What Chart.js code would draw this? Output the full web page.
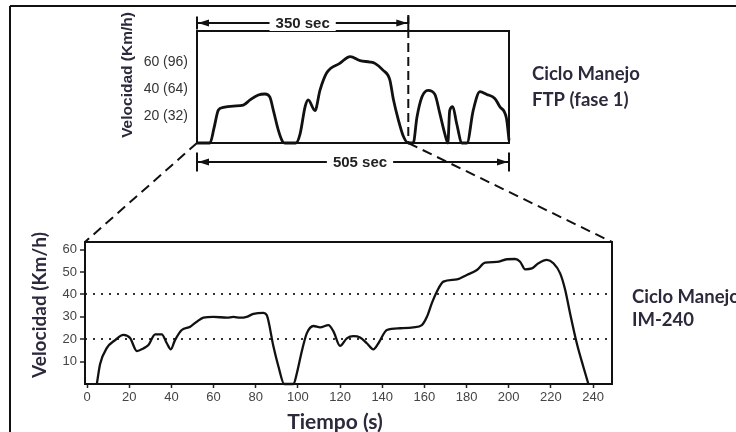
<!DOCTYPE html>
<html>
<head>
<meta charset="utf-8">
<script src="https://cdn.jsdelivr.net/npm/chart.js@4.4.1/dist/chart.umd.min.js"></script>
<style>
  html, body { margin: 0; padding: 0; background: #fff; }
  #wrap { position: relative; width: 736px; height: 432px; overflow: hidden; }
  #wrap canvas { position: absolute; left: 0; top: 0; }
</style>
</head>
<body>
<div id="wrap">
  <canvas id="ftp" width="736" height="432"></canvas>
  <canvas id="im" width="736" height="432"></canvas>
</div>
<script>
// FTP cycle (phase 1), time in s, speed in mph
const ftpTime  = [0, 21, 27.5, 34.6, 42.6, 58.8, 75, 85.8, 99.3, 110, 118, 123.5, 131.6, 138.6, 142, 160, 167, 175, 180, 191, 199, 210, 231, 248, 264, 280, 288, 301, 312, 318, 326, 334, 342, 350, 356, 364, 374, 385, 393, 401, 406, 409, 414, 420, 429, 437, 447, 458, 469, 482, 490, 501, 505];
const ftpSpeed = [0, 0, 11, 24.4, 26.4, 27.4, 28.1, 31.9, 35.6, 36.3, 34, 24.4, 9.6, 1, 0, 0, 7, 27, 32, 24, 39, 52, 59, 64, 61, 60, 59, 54, 47, 32, 17, 5, 0, 0, 19, 34, 39, 36, 22, 7, 0, 24, 27, 15, 0, 0, 24, 38, 36, 33, 27, 18, 2];
const ftpTicks = [20, 40, 60];
const ftpTickLabels = ['20 (32)', '40 (64)', '60 (96)'];
const phaseEnd = 342;
const cycleEnd = 505;
const bracketLabels = ['350 sec', '505 sec'];

// IM-240 cycle, time in s, speed in km/h
const imTime  = [4.6, 6.2, 9.3, 13.3, 17.2, 20.4, 23.6, 26.7, 29.1, 32.3, 35.4, 37.8, 39.7, 41.7, 44.9, 48.9, 52, 55.2, 59.9, 66.3, 69.4, 72.6, 75.7, 78.9, 83.6, 85.2, 88.4, 90.8, 93.5, 97.9, 99.5, 101.8, 104.2, 107.4, 110.5, 114.5, 116.9, 120, 123.2, 126.3, 129.5, 132.7, 135.8, 138.2, 142.2, 148.5, 154.8, 158.8, 161.2, 163.5, 165.9, 169, 175.4, 180.1, 184.9, 188.8, 194.4, 199.1, 203, 205.4, 207.8, 211, 214.1, 218.1, 221.2, 224.4, 226.8, 229.1, 232.3, 235.4, 237.8];
const imSpeed = [0, 9, 16, 19.6, 21.9, 20.5, 14.7, 15.9, 17.4, 22.2, 22.2, 18.2, 15.5, 19.6, 24.1, 25.6, 27.8, 29.6, 30, 29.6, 30, 29.6, 30, 31.3, 31.8, 30.8, 16.7, 7.7, 0, 0, 4.8, 14.4, 22.6, 25.9, 25.3, 26.3, 23.4, 17, 20.4, 21.4, 20.8, 18.2, 15.5, 18.2, 24.1, 24.9, 25.3, 26.3, 30, 36, 41.2, 45.7, 46.7, 48.7, 50.9, 54.2, 54.5, 55.7, 55.8, 54.6, 51.2, 51.6, 53.9, 55.4, 53.9, 49.4, 42, 31.6, 18.2, 7.7, 0];
const imXTicks = [0, 20, 40, 60, 80, 100, 120, 140, 160, 180, 200, 220, 240];
const imYTicks = [10, 20, 30, 40, 50, 60];
const imDotted = [20, 40];

const ink = '#111';
const labelColor = '#2a2a3c';
const boldFont = 'bold 18.5px Lato';

const boxFrame = {
  id: 'boxFrame',
  afterDatasetsDraw(chart) {
    const {ctx, chartArea: c} = chart;
    ctx.save();
    ctx.strokeStyle = ink;
    ctx.lineWidth = 2;
    ctx.strokeRect(c.left, c.top, c.right - c.left, c.bottom - c.top);
    ctx.restore();
  }
};

function line(ctx, x0, y0, x1, y1) {
  ctx.beginPath();
  ctx.moveTo(x0, y0);
  ctx.lineTo(x1, y1);
  ctx.stroke();
}

function arrowHead(ctx, x, y, dir) {
  ctx.beginPath();
  ctx.moveTo(x, y);
  ctx.lineTo(x - dir * 11, y - 3.5);
  ctx.lineTo(x - dir * 11, y + 3.5);
  ctx.closePath();
  ctx.fill();
}

function bracket(ctx, x0, x1, y, half, text, shift) {
  line(ctx, x0, y, x1, y);
  line(ctx, x0, y - half, x0, y + half);
  line(ctx, x1, y - half, x1, y + half);
  arrowHead(ctx, x0 + 1, y, -1);
  arrowHead(ctx, x1 - 1, y, 1);
  ctx.font = 'bold 15px "Liberation Sans"';
  const w = ctx.measureText(text).width;
  const mid = (x0 + x1) / 2 + shift;
  ctx.fillStyle = '#fff';
  ctx.fillRect(mid - w / 2 - 6, y - 8, w + 12, 16);
  ctx.fillStyle = '#222';
  ctx.textAlign = 'center';
  ctx.textBaseline = 'middle';
  ctx.fillText(text, mid, y + 0.5);
  ctx.fillStyle = ink;
}

function vText(ctx, text, x, y, font) {
  ctx.save();
  ctx.translate(x, y);
  ctx.rotate(-Math.PI / 2);
  ctx.font = font;
  ctx.textAlign = 'center';
  ctx.textBaseline = 'middle';
  ctx.fillText(text, 0, 0);
  ctx.restore();
}

const ftpNotes = {
  id: 'ftpNotes',
  afterDraw(chart) {
    const {ctx, chartArea: c, scales: {x}} = chart;
    const x0 = x.getPixelForValue(0);
    const x1 = x.getPixelForValue(phaseEnd);
    const x2 = x.getPixelForValue(cycleEnd);
    ctx.save();
    ctx.strokeStyle = ink;
    ctx.fillStyle = ink;
    ctx.lineWidth = 2;
    ctx.setLineDash([9, 5]);
    line(ctx, x1, c.top - 16, x1, c.bottom);
    ctx.setLineDash([]);
    bracket(ctx, x0, x1, c.top - 8, 6.5, bracketLabels[0], 0);
    bracket(ctx, x0, x2, c.bottom + 19, 9.5, bracketLabels[1], 7);

    ctx.fillStyle = labelColor;
    vText(ctx, 'Velocidad (Km/h)', c.left - 69, c.top + 44, 'bold 15.5px "Liberation Sans"');
    ctx.font = boldFont;
    ctx.textAlign = 'left';
    ctx.textBaseline = 'middle';
    ctx.fillText('Ciclo Manejo', c.right + 23, c.top + 43);
    ctx.fillText('FTP (fase 1)', c.right + 23, c.top + 69);
    ctx.restore();
  }
};

const topChart = new Chart(document.getElementById('ftp').getContext('2d'), {
  type: 'line',
  data: {
    datasets: [{
      data: ftpTime.map((t, i) => ({x: t, y: ftpSpeed[i]})),
      borderColor: ink,
      borderWidth: 2.8,
      pointRadius: 0,
      cubicInterpolationMode: 'monotone',
      clip: 4
    }]
  },
  options: {
    responsive: false,
    animation: false,
    layout: {padding: {left: 0, top: 31, right: 227, bottom: 289}},
    plugins: {legend: {display: false}, tooltip: {enabled: false}},
    scales: {
      x: {type: 'linear', display: false, min: 0, max: cycleEnd},
      y: {
        min: 0,
        max: 83,
        afterFit: (s) => { s.width = 197; },
        afterBuildTicks: (s) => { s.ticks = ftpTicks.map((v) => ({value: v})); },
        grid: {display: false, drawTicks: false},
        border: {display: false},
        ticks: {
          padding: 9,
          color: '#333',
          font: {family: 'Liberation Sans', size: 14},
          callback: (v) => ftpTickLabels[ftpTicks.indexOf(v)]
        }
      }
    }
  },
  plugins: [boxFrame, ftpNotes]
});

const imNotes = {
  id: 'imNotes',
  afterDraw(chart) {
    const {ctx, chartArea: b} = chart;
    const a = topChart.chartArea;
    const xp = topChart.scales.x.getPixelForValue(phaseEnd);
    ctx.save();
    ctx.strokeStyle = ink;
    ctx.lineWidth = 2;
    ctx.setLineDash([10, 6]);
    line(ctx, a.left, a.bottom, b.left, b.top);
    line(ctx, xp, a.bottom, b.right, b.top);
    ctx.setLineDash([]);

    // outer frame (top and left edges only)
    line(ctx, 10, 6, chart.width, 6);
    line(ctx, 10, 6, 10, chart.height);

    ctx.fillStyle = labelColor;
    vText(ctx, 'Velocidad (Km/h)', b.left - 45, b.top + 63, 'bold 19px Lato');
    ctx.font = 'bold 21px Lato';
    ctx.textAlign = 'center';
    ctx.textBaseline = 'middle';
    ctx.fillText('Tiempo (s)', 335, b.bottom + 38);
    ctx.font = boldFont;
    ctx.textAlign = 'left';
    ctx.fillText('Ciclo Manejo', b.right + 20, b.top + 55);
    ctx.fillText('IM-240', b.right + 20, b.top + 78);
    ctx.restore();
  }
};

const imChart = new Chart(document.getElementById('im').getContext('2d'), {
  type: 'line',
  data: {
    datasets: [{
      data: imTime.map((t, i) => ({x: t, y: imSpeed[i]})),
      borderColor: ink,
      borderWidth: 2.3,
      pointRadius: 0,
      cubicInterpolationMode: 'monotone',
      clip: 4
    }]
  },
  options: {
    responsive: false,
    animation: false,
    layout: {padding: {left: 0, top: 242, right: 124, bottom: 28}},
    plugins: {legend: {display: false}, tooltip: {enabled: false}},
    scales: {
      x: {
        type: 'linear',
        min: -1,
        max: 249,
        afterBuildTicks: (s) => { s.ticks = imXTicks.map((v) => ({value: v})); },
        afterFit: (s) => { s.height = 20; },
        grid: {drawOnChartArea: false, drawTicks: true, tickLength: 4, tickColor: '#222', tickWidth: 1.5},
        border: {display: false},
        ticks: {padding: 2, color: '#444', font: {family: 'Liberation Sans', size: 13}, maxRotation: 0, autoSkip: false}
      },
      y: {
        min: 0,
        max: 63.4,
        afterBuildTicks: (s) => { s.ticks = imYTicks.map((v) => ({value: v})); },
        afterFit: (s) => { s.width = 85; },
        grid: {
          color: (c) => (c.tick && imDotted.includes(c.tick.value)) ? '#333' : 'rgba(0,0,0,0)',
          lineWidth: 2,
          tickLength: 5,
          tickColor: '#222',
          tickWidth: 1.5,
          tickBorderDash: []
        },
        border: {display: false, dash: [2, 6]},
        ticks: {padding: 3, color: '#444', font: {family: 'Liberation Sans', size: 13}, autoSkip: false}
      }
    }
  },
  plugins: [boxFrame, imNotes]
});
</script>
</body>
</html>
